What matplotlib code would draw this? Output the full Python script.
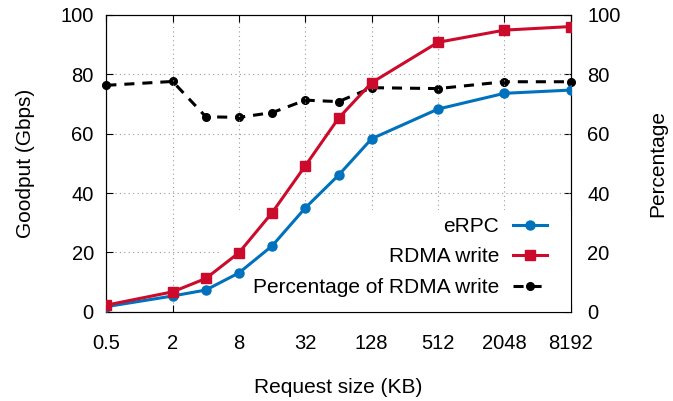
import matplotlib
matplotlib.use("Agg")
import matplotlib.pyplot as plt
from matplotlib.patches import Rectangle

# ----------------------------------------------------------------------
#  Data
# ----------------------------------------------------------------------
req_size = [0.5, 2, 4, 8, 16, 32, 64, 128, 512, 2048, 8192]
erpc = [1.7, 5.3, 7.3, 13.1, 22.2, 35.0, 46.0, 58.3, 68.3, 73.6, 74.7]
rdma_write = [2.2, 6.7, 11.2, 19.9, 33.4, 49.2, 65.2, 77.2, 90.8, 94.9, 96.1]
percentage = [76.3, 77.6, 65.7, 65.5, 67.1, 71.3, 70.8, 75.5, 75.2, 77.5, 77.5]

x_ticks = [0.5, 2, 8, 32, 128, 512, 2048, 8192]
x_tick_labels = ["0.5", "2", "8", "32", "128", "512", "2048", "8192"]
y_ticks = [0, 20, 40, 60, 80, 100]

plt.rcParams['font.family'] = ['Liberation Sans', 'DejaVu Sans']
plt.rcParams['font.size'] = 14.5

blue = '#0071bc'
red = '#cc0b2c'
dash = (0, (3.3, 2.6))

fig = plt.figure(figsize=(6.73, 4.01), dpi=100)
axes = fig.add_axes([0.158, 0.2227, 0.848 - 0.158, 0.9626 - 0.2227])
axes2 = axes.twinx()

# data lines
axes.plot(req_size, erpc, color=blue, lw=2.2, marker='o', ms=6.5, label='eRPC', zorder=3)
axes.plot(req_size, rdma_write, color=red, lw=2.2, marker='s', ms=6.5, label='RDMA write', zorder=3)
axes.plot([], [], color='k', lw=2.2, ls=dash, marker='o', ms=5.5,
          label='Percentage of RDMA write')
axes2.plot(req_size, percentage, color='k', lw=2.2, ls=dash, marker='o', ms=5.5, clip_on=False)

# axes setup
axes.set_xscale('log', base=2)
axes.set_xlim(0.5, 8192)
axes.set_xticks(x_ticks)
axes.set_xticklabels(x_tick_labels)
axes.minorticks_off()
axes.set_ylim(0, 100)
axes.set_yticks(y_ticks)
axes2.set_ylim(0, 100)
axes2.set_yticks(y_ticks)

axes.tick_params(axis='x', direction='in', length=5, width=0.8, pad=16, top=True)
axes.tick_params(axis='y', direction='in', length=5, width=0.8, pad=9)
axes2.tick_params(axis='y', direction='in', length=5, width=0.8, pad=12)
axes.grid(True, ls=(0, (1, 3)), color='#999999', lw=0.8)

axes.set_xlabel('Request size (KB)', labelpad=18, fontsize=15)
axes.set_ylabel('Goodput (Gbps)', labelpad=18, fontsize=15)
axes2.set_ylabel('Percentage', labelpad=20, fontsize=15)

axes.set_zorder(axes2.get_zorder() + 1)
axes.patch.set_visible(False)

# opaque key area hiding the grid
axes.add_patch(Rectangle((0.245, 0.0), 0.755, 0.343, transform=axes.transAxes,
                         facecolor='white', edgecolor='none', zorder=1.6))

leg = axes.legend(loc='lower right', markerfirst=False, frameon=False, fontsize=15,
                  handlelength=1.65, handletextpad=0.65, borderpad=0.0,
                  borderaxespad=0.0, labelspacing=0.55,
                  bbox_to_anchor=(0.949, 0.05))
for t in leg.get_texts():
    t.set_ha('right')

fig.savefig('out.png', dpi=100)
